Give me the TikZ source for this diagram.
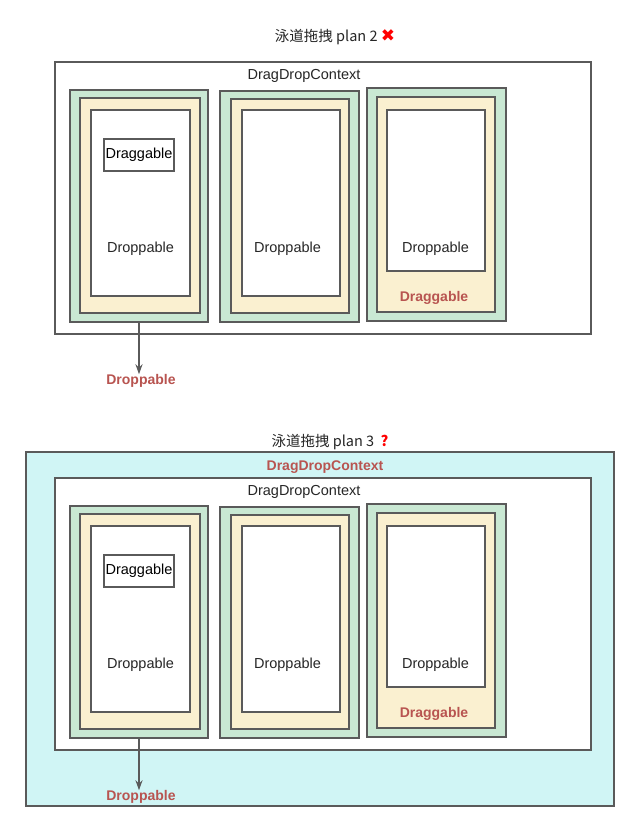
\documentclass[tikz,border=0pt]{standalone}
\usepackage{fontspec}
\setmainfont{Liberation Sans}
\newfontfamily\cjk{Noto Sans CJK SC}
\newfontfamily\symb{DejaVu Sans}
\usetikzlibrary{arrows.meta}

\definecolor{laneline}{HTML}{5A5A5A}
\definecolor{lanegreen}{HTML}{C9E8D3}
\definecolor{laneyellow}{HTML}{FAF0D0}
\definecolor{lanecyan}{HTML}{D0F5F5}
\definecolor{lanered}{HTML}{B85450}

\tikzset{
  box/.style={draw=laneline, line width=1.8pt, rectangle, inner sep=0pt},
  txt/.style={inner sep=1pt, text=black!85},
  redtxt/.style={inner sep=1pt, text=lanered, font=\fontsize{14}{16}\selectfont\bfseries},
}

\begin{document}
\begin{tikzpicture}[x=1pt, y=-1pt, font=\fontsize{14.5}{16}\selectfont]
    \useasboundingbox[fill=white] (0,0) rectangle (634,830);

    % Titles
    \node[txt] (title2) at (335,37) {\cjk 泳道拖拽 plan 2 {\symb\fontsize{17}{17}\selectfont\color{red}✖}};
    \node[txt] (title3) at (330,442) {\cjk 泳道拖拽 plan 3\ \ {\color{red}\bfseries ?}};

    % Outer context of plan 3 (drawn first)
    \node[box, fill=lanecyan, minimum width=588, minimum height=354] (outer3) at (320,629) {};
    \node[redtxt] (outer3text) at (325,467) {DragDropContext};

    \foreach \p/\dy in {2/0, 3/416} {
        % Context
        \node[box, fill=white, minimum width=536, minimum height=272] (ctx\p) at (323,198+\dy) {};
        \node[txt] (ctx\p text) at (304,76+\dy) {DragDropContext};

        % First lane
        \node[box, fill=lanegreen, minimum width=138, minimum height=232] (laneA\p) at (139,206+\dy) {};
        \node[box, fill=laneyellow, minimum width=120, minimum height=215] (dragA\p) at (140,205.5+\dy) {};
        \node[box, fill=white, minimum width=99, minimum height=186] (dropA\p) at (140.5,203+\dy) {};
        \node[box, minimum width=70, minimum height=32] (itemA\p) at (139,155+\dy) {Draggable};
        \node[txt] (dropA\p text) at (140.5,249+\dy) {Droppable};

        % Second lane
        \node[box, fill=lanegreen, minimum width=139, minimum height=231] (laneB\p) at (289.5,206.5+\dy) {};
        \node[box, fill=laneyellow, minimum width=118, minimum height=214] (dragB\p) at (290,206+\dy) {};
        \node[box, fill=white, minimum width=98, minimum height=186] (dropB\p) at (291,203+\dy) {};
        \node[txt] (dropB\p text) at (287.5,249+\dy) {Droppable};

        % Third lane
        \node[box, fill=lanegreen, minimum width=139, minimum height=233] (laneC\p) at (436.5,204.5+\dy) {};
        \node[box, fill=laneyellow, minimum width=118, minimum height=215] (dragC\p) at (436,204.5+\dy) {};
        \node[box, fill=white, minimum width=98, minimum height=161] (dropC\p) at (436,190.5+\dy) {};
        \node[txt] (dropC\p text) at (435.5,249+\dy) {Droppable};
        \node[redtxt] (dragC\p text) at (434,298+\dy) {Draggable};

        % Lane arrow
        \node[redtxt] (lane\p text) at (141,381+\dy) {Droppable};
        \draw[laneline, line width=1.8pt, -{Stealth[length=10pt, width=7pt]}] (laneA\p.south) -- ([yshift=-1pt]lane\p text.north -| laneA\p.south);
    }
\end{tikzpicture}
\end{document}
